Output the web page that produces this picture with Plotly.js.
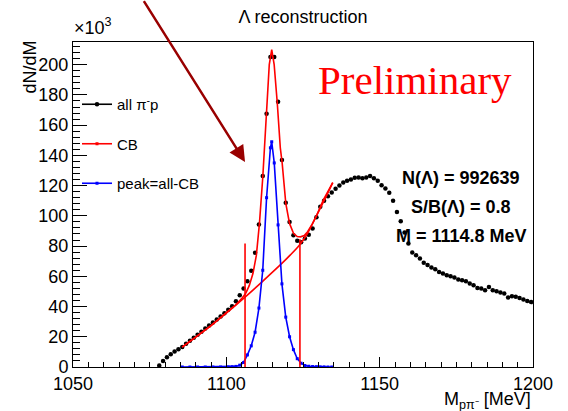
<!DOCTYPE html>
<html>
<head>
<meta charset="utf-8">
<script src="https://cdn.plot.ly/plotly-3.0.1.min.js"></script>
<style>html,body{margin:0;padding:0;background:#fff;}#chart{width:568px;height:411px;}</style>
</head>
<body>
<div id="chart"></div>
<script>
// ---- data (counts in units of 10^3) ----
const massBins = [1078.125,1079.375,1080.625,1081.875,1083.125,1084.375,1085.625,1086.875,1088.125,1089.375,
  1090.625,1091.875,1093.125,1094.375,1095.625,1096.875,1098.125,1099.375,1100.625,1101.875,
  1103.125,1104.375,1105.625,1106.875,1108.125,1109.375,1110.625,1111.875,1113.125,1114.375,
  1115.625,1116.875,1118.125,1119.375,1120.625,1121.875,1123.125,1124.375,1125.625,1126.875,
  1128.125,1129.375,1130.625,1131.875,1133.125,1134.375,1135.625,1136.875,1138.125,1139.375,
  1140.625,1141.875,1143.125,1144.375,1145.625,1146.875,1148.125,1149.375,1150.625,1151.875,
  1153.125,1154.375,1155.625,1156.875,1158.125,1159.375,1160.625,1161.875,1163.125,1164.375,
  1165.625,1166.875,1168.125,1169.375,1170.625,1171.875,1173.125,1174.375,1175.625,1176.875,
  1178.125,1179.375,1180.625,1181.875,1183.125,1184.375,1185.625,1186.875,1188.125,1189.375,
  1190.625,1191.875,1193.125,1194.375,1195.625,1196.875,1198.125,1199.375];
const allCounts = [1.0,4.0,6.5,8.5,10.2,11.8,13.3,15.3,17.3,19.3,
  21.3,23.3,25.4,27.4,29.4,31.4,33.4,35.6,37.8,40.2,
  43.5,47.5,52.0,56.8,63.6,75.5,94.3,126.3,167.5,205,
  205,175.5,137,108.6,96,87.2,83.5,82.5,85,87.5,
  91.6,99,106,110,113,115.5,118,120,122.1,123.2,
  124.1,125.2,125.4,124.8,125.4,126.3,124.8,123.2,120.3,118.1,
  115.2,110,102.6,96.5,89,81.7,75.8,74,71.8,68.9,
  67.4,65.8,64.7,62.9,61.8,60.7,60.1,59.2,57.9,57.4,
  56.8,55.2,54.1,52.3,51.9,50.8,53,50.8,50.1,49.3,
  48.6,46,46.8,46.4,45.7,44.6,43.7,43.0];

// total fit (CB + background)
const fitMass  = [1085.6,1090,1095,1100,1103,1105,1106.4,1107.5,1108.7,1109.8,1110.8,1111.9,1113.0,1114.0,1114.8,
  1115.6,1116.6,1117.6,1118.2,1119.4,1120.6,1121.9,1123.1,1124.2,1125.4,1126.5,1128,1129.5,1131.6,1133,1134.7];
const fitTotal = [13.2,19.8,27.4,35.9,41,45.2,49,54,62,74,95,126,167,200,210,
  200,175,145,135,108,95,88.5,86.3,86.1,87,89.5,94.5,100.5,110.4,115.8,122];
// background part of fit
const bgMass   = [1085.6,1090,1095,1100,1106.1,1112,1118.1,1120.8,1123.8,1126.5,1129.5,1132,1134.7];
const bgValues = [13.2,19.8,27.4,35.6,46.2,57,68.5,74,80.6,88.5,100.5,110.5,122];
// peak = all - CB
const peakMass = [1085.625,1088.125,1090.625,1093.125,1095.625,1098.125,1100.625,1101.875,1103.125,1104.375,
  1105.625,1106.875,1108.125,1109.375,1110.625,1111.875,1113.125,1114.375,1114.8,1115.625,
  1116.875,1118.125,1119.375,1120.625,1121.875,1123.125,1124.375,1125.625,1126.875,1128.125,
  1129.375,1130.625,1131.875,1133.125,1134.375];
const peakValues = [0,0,0,0,0,0,0.1,0.2,0.4,1.2,
  3,8,14,23,39,64,112,145,149,135,
  94,55,33,20,11.5,5.5,2.5,1.0,0.5,0.3,
  0.2,0.1,0.1,0,0];
// signal window
const windowMass = [1106.1, 1124.0];
const windowTop  = [81.7, 84.5];

const legendNames = ['all \u03c0<sup>-</sup>p', 'CB', 'peak=all-CB'];
const statsLines = ['N(\u039b) = 992639', 'S/B(\u039b) = 0.8', 'M = 1114.8 MeV'];

const FONT = 'Liberation Sans, Arial, Helvetica, sans-serif';
const RED = '#ff0000', BLUE = '#0000ff';

const traces = [
  {x: massBins, y: allCounts, mode: 'markers', type: 'scatter', showlegend: false,
   marker: {color: '#000', size: 4.5}},
  {x: bgMass, y: bgValues, mode: 'lines', showlegend: false,
   line: {color: RED, width: 1.6, shape: 'spline', smoothing: 0.8}},
  {x: fitMass, y: fitTotal, mode: 'lines', showlegend: false,
   line: {color: RED, width: 1.6}},
  {x: peakMass, y: peakValues, mode: 'lines+markers', showlegend: false,
   line: {color: BLUE, width: 1.6}, marker: {color: BLUE, size: 3, symbol: 'square'}},
];
windowMass.forEach((m, i) => {
  traces.push({x: [m, m], y: [0, windowTop[i]], mode: 'lines', showlegend: false,
    line: {color: RED, width: 1.6}});
});
// legend entries
const legendColors = ['#000', RED, BLUE];
legendNames.forEach((n, i) => {
  traces.push({x: [null], y: [null], mode: 'lines+markers', name: n, legendgroup: 'g' + i,
    line: {color: legendColors[i], width: 1.6},
    marker: {color: legendColors[i], size: i === 0 ? 4.5 : 3, symbol: i === 0 ? 'circle' : 'square'}});
});

const W = 568, H = 411, L = 73, R = 35, T = 42, B = 44;
const pw = W - L - R, ph = H - T - B;
const px = v => (v - L) / pw;            // pixel x -> paper
const py = v => (H - B - v) / ph;        // pixel y -> paper

const annotations = [
  {text: 'dN/dM', xref: 'paper', yref: 'paper', x: px(29), y: py(39), xanchor: 'center', yanchor: 'top',
   textangle: -90, showarrow: false, font: {family: FONT, size: 18, color: '#000'}},
  {text: '\u00d710<sup>3</sup>', xref: 'paper', yref: 'paper', x: px(72), y: py(40), xanchor: 'left', yanchor: 'bottom',
   showarrow: false, font: {family: FONT, size: 18, color: '#000'}},
  {text: 'M<sub>p\u03c0\u207b</sub> [MeV]', xref: 'paper', yref: 'paper', x: 1, y: py(400), xanchor: 'right', yanchor: 'middle',
   showarrow: false, font: {family: FONT, size: 18, color: '#000'}},
  {text: 'Preliminary', xref: 'paper', yref: 'paper', x: px(415), y: py(80), xanchor: 'center', yanchor: 'middle',
   showarrow: false, font: {family: 'Liberation Serif, Times New Roman, serif', size: 41, color: RED}},
  {text: '', xref: 'x', yref: 'y', x: 1106.1, y: 135.6, axref: 'x', ayref: 'y', ax: 1072.8, ay: 243,
   showarrow: true, arrowhead: 2, arrowsize: 1.3, arrowwidth: 2.5, arrowcolor: '#990000'}
];
const statY = [178, 207, 236];
statsLines.forEach((s, i) => {
  annotations.push({text: '<b>' + s + '</b>', xref: 'paper', yref: 'paper', x: px(461), y: py(statY[i]),
    xanchor: 'center', yanchor: 'middle', showarrow: false, font: {family: FONT, size: 18, color: '#000'}});
});

const layout = {
  width: W, height: H,
  margin: {l: L, r: R, t: T, b: B, pad: 0},
  paper_bgcolor: '#fff', plot_bgcolor: '#fff',
  font: {family: FONT, color: '#000'},
  title: {text: '\u039b reconstruction', font: {family: FONT, size: 18, color: '#000'},
    xref: 'paper', x: 0.5, xanchor: 'center', yref: 'container', y: 1 - 17 / H, yanchor: 'middle'},
  xaxis: {range: [1050, 1200], showgrid: false, zeroline: false, showline: true, mirror: true,
    linecolor: '#000', linewidth: 1, ticks: 'inside', ticklen: 10, tickcolor: '#000', dtick: 50, tick0: 1050,
    tickfont: {family: FONT, size: 18, color: '#000'},
    minor: {dtick: 5, ticks: 'inside', ticklen: 5, tickcolor: '#000', showgrid: false}},
  yaxis: {range: [0, 215], showgrid: false, zeroline: false, showline: true, mirror: true,
    linecolor: '#000', linewidth: 1, ticks: 'inside', ticklen: 14, tickcolor: '#000', dtick: 20, tick0: 0,
    tickfont: {family: FONT, size: 18, color: '#000'},
    minor: {dtick: 4, ticks: 'inside', ticklen: 7, tickcolor: '#000', showgrid: false}},
  showlegend: true,
  legend: {x: px(77), y: py(88), xanchor: 'left', yanchor: 'top', bgcolor: 'rgba(0,0,0,0)',
    font: {family: FONT, size: 15, color: '#000'}, tracegroupgap: 17, itemwidth: 30, traceorder: 'grouped'},
  annotations: annotations
};

Plotly.newPlot('chart', traces, layout, {staticPlot: true, displayModeBar: false});
</script>
</body>
</html>
